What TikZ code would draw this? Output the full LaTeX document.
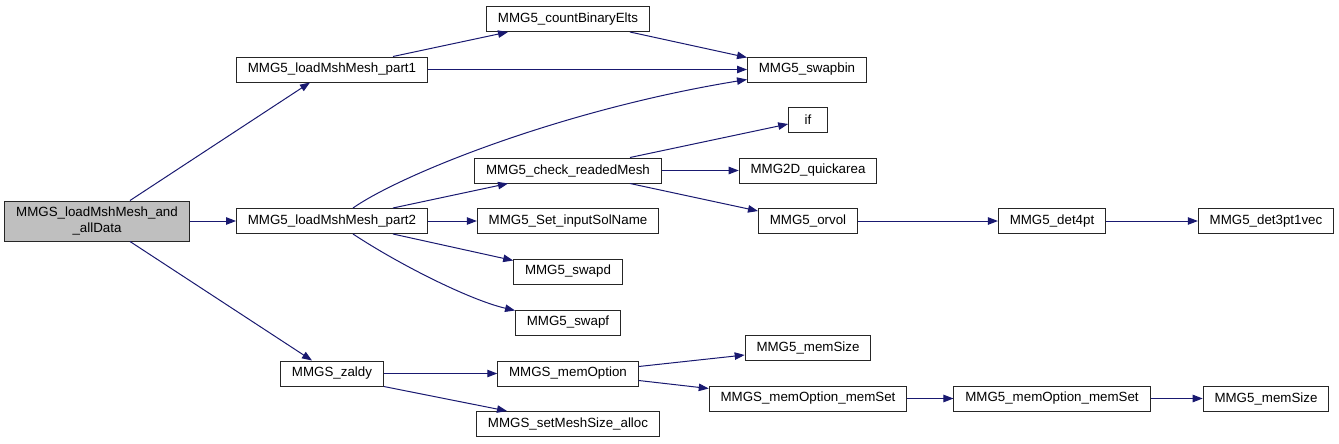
\documentclass[tikz,border=0pt]{standalone}
\usepackage{fontspec}
\setmainfont{Liberation Sans}
\usetikzlibrary{arrows.meta,calc}
\definecolor{edgeblue}{HTML}{191970}

\begin{document}
\begin{tikzpicture}[x=0.75pt, y=-0.75pt,
  fn/.style={draw=black!85, line width=0.75pt, fill=white, font=\fontsize{10}{11.5}\selectfont,
    minimum height=18.75pt, minimum width=29pt, inner xsep=8.5pt, inner ysep=0pt},
  call/.style={draw=edgeblue, line width=0.75pt, -{Triangle[length=7.5pt,width=5.6pt]}}]
\useasboundingbox (0,0) rectangle (1339,443);
\node[fn, fill=black!25, align=center, minimum width=138pt, minimum height=30pt] (root) at (97,221) {MMGS\_loadMshMesh\_and\\\_allData};
\node[fn] (part1) at (332,69.5) {MMG5\_loadMshMesh\_part1};
\node[fn] (part2) at (332,221) {MMG5\_loadMshMesh\_part2};
\node[fn] (zaldy) at (332,373.5) {MMGS\_zaldy};
\node[fn] (count) at (568,19) {MMG5\_countBinaryElts};
\node[fn] (check) at (568,170.5) {MMG5\_check\_readedMesh};
\node[fn] (solname) at (568,221) {MMG5\_Set\_inputSolName};
\node[fn] (swapd) at (568,271.5) {MMG5\_swapd};
\node[fn] (swapf) at (568,322.5) {MMG5\_swapf};
\node[fn] (memopt) at (568,373.5) {MMGS\_memOption};
\node[fn] (alloc) at (568,424) {MMGS\_setMeshSize\_alloc};
\node[fn] (swapbin) at (807,69.5) {MMG5\_swapbin};
\node[fn] (ifnode) at (808,120) {if};
\node[fn] (quick) at (808,170.5) {MMG2D\_quickarea};
\node[fn] (orvol) at (808,221) {MMG5\_orvol};
\node[fn] (memsizea) at (808,348) {MMG5\_memSize};
\node[fn] (smemset) at (808,398.5) {MMGS\_memOption\_memSet};
\node[fn] (det4) at (1052,221) {MMG5\_det4pt};
\node[fn] (gmemset) at (1052,398.5) {MMG5\_memOption\_memSet};
\node[fn] (det3) at (1266,221) {MMG5\_det3pt1vec};
\node[fn] (memsizeb) at (1266,398.5) {MMG5\_memSize};

\draw[call] ($(root.north)+(33,0)$) -- ($(part1.south)+(-22,0)$);
\draw[call] (root.east) -- (part2.west);
\draw[call] ($(root.south)+(33,0)$) -- ($(zaldy.north)+(-20,0)$);
\draw[call] ($(part1.north)+(61,0)$) -- ($(count.south)+(-60,0)$);
\draw[call] (part1.east) -- (swapbin.west);
\draw[call] ($(count.south)+(62,0)$) -- ($(swapbin.north west)+(0,1)$);
\draw[call] ($(part2.north)+(21,0)$) .. controls (400,175) and (560,110) .. ($(swapbin.south west)+(0,-3)$);
\draw[call] ($(part2.north)+(61,0)$) -- ($(check.south)+(-60,0)$);
\draw[call] (part2.east) -- (solname.west);
\draw[call] ($(part2.south)+(61,0)$) -- ($(swapd.north west)+(0,2)$);
\draw[call] ($(part2.south)+(21,0)$) .. controls (400,265) and (470,300) .. ($(swapf.north west)+(0,1)$);
\draw[call] ($(check.north)+(62,0)$) -- ($(ifnode.west)+(0,4)$);
\draw[call] (check.east) -- (quick.west);
\draw[call] ($(check.south)+(62,0)$) -- ($(orvol.north west)+(0,3)$);
\draw[call] (orvol.east) -- (det4.west);
\draw[call] (det4.east) -- (det3.west);
\draw[call] (zaldy.east) -- (memopt.west);
\draw[call] (zaldy.south east) -- ($(alloc.north)+(-61,0)$);
\draw[call] ($(memopt.east)+(0,-7)$) -- ($(memsizea.west)+(0,7)$);
\draw[call] ($(memopt.east)+(0,7)$) -- ($(smemset.west)+(0,-10)$);
\draw[call] (smemset.east) -- (gmemset.west);
\draw[call] (gmemset.east) -- (memsizeb.west);
\end{tikzpicture}
\end{document}
